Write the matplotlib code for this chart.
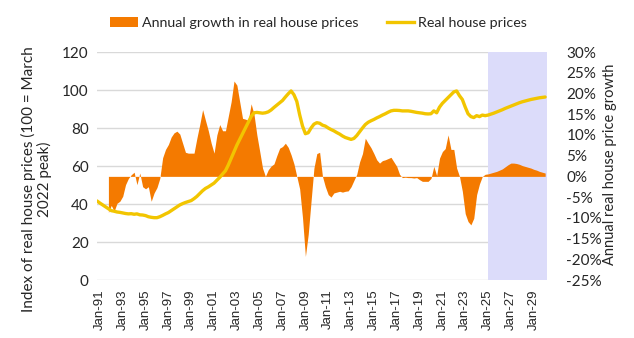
import matplotlib
matplotlib.use("Agg")
import matplotlib.pyplot as plt
import matplotlib.dates as mdates
from matplotlib.patches import Patch
from matplotlib.lines import Line2D
from matplotlib.ticker import FuncFormatter, FixedLocator
import pandas as pd

# Real house price index (100 = March 2022 peak), quarterly from Oct 1990
price_index = [
    41.6,
    40.5, 39.5, 38.5, 37.5,   # 1991
    36.5, 36.2, 35.8, 35.6,   # 1992
    35.3, 35.0, 34.8, 34.9,   # 1993
    34.6, 34.8, 34.3, 34.2,   # 1994
    33.9, 33.3, 33.0, 32.8,   # 1995
    32.8, 33.3, 34.0, 34.8,   # 1996
    35.5, 36.5, 37.5, 38.5,   # 1997
    39.5, 40.2, 40.8, 41.3,   # 1998
    41.8, 42.8, 44.0, 45.5,   # 1999
    47.0, 48.2, 49.0, 50.0,   # 2000
    51.0, 52.5, 54.0, 55.8,   # 2001
    57.5, 60.5, 64.0, 67.5,   # 2002
    71.0, 74.0, 77.0, 80.0,   # 2003
    83.0, 86.0, 88.0, 88.2,   # 2004
    88.0, 87.8, 88.0, 88.5,   # 2005
    89.5, 90.8, 92.0, 93.2,   # 2006
    94.5, 96.3, 98.0, 99.5,   # 2007
    97.5, 94.0, 87.0, 81.0,   # 2008
    77.0, 77.5, 80.0, 82.0,   # 2009
    82.8, 82.5, 81.5, 81.0,   # 2010
    80.0, 79.2, 78.5, 77.6,   # 2011
    76.8, 75.8, 75.0, 74.5,   # 2012
    74.0, 74.5, 76.0, 78.0,   # 2013
    80.0, 81.8, 83.0, 83.8,   # 2014
    84.5, 85.3, 86.0, 86.8,   # 2015
    87.5, 88.3, 89.0, 89.3,   # 2016
    89.3, 89.2, 89.0, 89.0,   # 2017
    89.0, 88.8, 88.5, 88.2,   # 2018
    88.0, 87.8, 87.5, 87.4,   # 2019
    87.5, 89.0, 88.0, 91.0,   # 2020
    93.0, 94.5, 96.0, 97.5,   # 2021
    99.0, 99.5, 97.0, 95.0,   # 2022
    91.0, 87.5, 86.0, 85.5,   # 2023
    86.5, 86.0, 86.8, 86.5,   # 2024
    86.8, 87.3, 87.8, 88.4,   # 2025
    89.0, 89.6, 90.3, 90.9,   # 2026
    91.5, 92.1, 92.7, 93.3,   # 2027
    93.8, 94.2, 94.6, 95.0,   # 2028
    95.3, 95.6, 95.9, 96.1,   # 2029
    96.3,
]

# Annual growth in real house prices (%), quarterly from Oct 1991
annual_growth = [
    -8.7,
    -7.0, -8.4, -6.5, -6.0,   # 1992
    -4.8, -2.0, -0.5, 0.4,    # 1993
    1.0, -2.0, 0.8, -2.5,     # 1994
    -3.0, -2.5, -6.0, -4.0,   # 1995
    -2.7, -0.5, 4.5, 6.5,     # 1996
    7.7, 9.5, 10.5, 10.9,     # 1997
    10.2, 8.0, 5.8, 5.6,      # 1998
    5.6, 5.6, 9.2, 12.5,      # 1999
    16.1, 13.5, 11.0, 8.0,    # 2000
    5.6, 10.0, 12.5, 11.0,    # 2001
    11.0, 14.5, 18.0, 23.0,   # 2002
    22.0, 18.0, 14.0, 13.8,   # 2003
    13.5, 17.5, 15.0, 10.0,   # 2004
    6.0, 2.0, 0.0, 1.6,       # 2005
    2.5, 3.0, 5.0, 6.8,       # 2006
    7.2, 8.0, 7.0, 5.2,       # 2007
    3.0, 0.0, -3.0, -10.0,    # 2008
    -19.3, -14.0, -6.0, 2.0,  # 2009
    5.5, 5.8, 0.0, -2.5,      # 2010
    -4.4, -5.0, -4.0, -3.8,   # 2011
    -3.6, -3.8, -3.6, -3.5,   # 2012
    -2.5, -1.0, 0.5, 3.5,     # 2013
    5.5, 9.2, 8.0, 6.9,       # 2014
    5.5, 4.0, 3.2, 3.8,       # 2015
    4.0, 4.3, 4.6, 3.5,       # 2016
    2.4, 0.5, -0.3, -0.2,     # 2017
    -0.3, -0.3, -0.4, -0.3,   # 2018
    -0.8, -1.2, -1.2, -1.2,   # 2019
    -0.5, 2.4, 0.2, 4.4,      # 2020
    6.0, 6.7, 10.0, 6.5,      # 2021
    6.5, 2.0, 0.0, -3.6,      # 2022
    -9.0, -10.9, -11.7, -10.1,  # 2023
    -4.4, -1.8, 0.0, 0.5,     # 2024
    0.6, 0.8, 1.0, 1.2,       # 2025
    1.5, 1.8, 2.3, 2.8,       # 2026
    3.2, 3.2, 3.1, 2.9,       # 2027
    2.6, 2.4, 2.2, 2.0,       # 2028
    1.7, 1.5, 1.2, 1.0,       # 2029
    0.8,
]

tick_labels = ["Jan-91", "Jan-93", "Jan-95", "Jan-97", "Jan-99", "Jan-01",
               "Jan-03", "Jan-05", "Jan-07", "Jan-09", "Jan-11", "Jan-13",
               "Jan-15", "Jan-17", "Jan-19", "Jan-21", "Jan-23", "Jan-25",
               "Jan-27", "Jan-29"]

price_dates = pd.date_range("1990-10-01", periods=len(price_index), freq="QS")
growth_dates = pd.date_range("1991-10-01", periods=len(annual_growth), freq="QS")
tick_dates = [pd.to_datetime(t, format="%b-%y") for t in tick_labels]

forecast_start = pd.Timestamp("2025-01-01")
x_start = pd.Timestamp("1990-10-01")
x_end = pd.Timestamp("2030-03-01")

legend_labels = ["Annual growth in real house prices", "Real house prices"]
left_title = "Index of real house prices (100 = March\n2022 peak)"
right_title = "Annual real house price growth"

ORANGE = "#f47a00"
GOLD = "#f2c500"
SHADE = "#dcdcfa"
GRID = "#d9d9d9"
TEXT = "#262626"

plt.rcParams["font.family"] = ["Lato", "DejaVu Sans"]

fig = plt.figure(figsize=(6.34, 3.38), dpi=100)
ax = fig.add_axes([97 / 634, 1 - 280 / 338, 450 / 634, 228 / 338])
ax2 = ax.twinx()      # growth area, right-hand scale
ax3 = ax.twinx()      # price line, drawn last so it sits on top

# base layer: gridlines and forecast shading
ax.set_ylim(0, 120)
ax.set_yticks(range(0, 121, 20))
ax.grid(axis="y", color=GRID, linewidth=1.0)
ax.set_axisbelow(True)
ax.set_xlim(x_start, x_end)
ax.axvspan(forecast_start, x_end, color=SHADE, zorder=1, linewidth=0)

# growth area on the right-hand scale
ax2.set_ylim(-25, 30)
ax2.set_yticks(range(-25, 31, 5))
ax2.fill_between(growth_dates, 0, annual_growth, color=ORANGE, linewidth=0)
ax2.yaxis.set_major_formatter(FuncFormatter(lambda v, p: f"{int(v)}%"))

# price line on the left-hand scale
ax3.set_ylim(0, 120)
ax3.set_yticks([])
ax3.plot(price_dates, price_index, color=GOLD, linewidth=2.4,
         solid_joinstyle="round", solid_capstyle="round")

for a in (ax, ax2, ax3):
    for s in a.spines.values():
        s.set_visible(False)
    a.set_xlim(x_start, x_end)

ax.xaxis.set_major_locator(FixedLocator(mdates.date2num(tick_dates)))
ax.set_xticklabels(tick_labels, rotation=90, fontsize=9.5, color=TEXT,
                   family=["Liberation Sans"])
ax.tick_params(axis="x", length=0, pad=7)
ax.tick_params(axis="y", length=0, pad=6, labelsize=11, labelcolor=TEXT)
ax2.tick_params(axis="y", length=0, pad=14, labelsize=11, labelcolor=TEXT)
for lbl in ax2.get_yticklabels():
    lbl.set_horizontalalignment("left")

fig.text(0.057, 0.47, left_title, rotation=90, ha="center", va="center",
         multialignment="center", fontsize=11, color=TEXT, linespacing=1.1)
fig.text(0.962, 0.514, right_title, rotation=90, ha="center", va="center",
         fontsize=10.5, color=TEXT)

handles = [Patch(facecolor=ORANGE, edgecolor="none"),
           Line2D([0], [0], color=GOLD, linewidth=2.4)]
fig.legend(handles, legend_labels, loc="center", bbox_to_anchor=(0.503, 0.932),
           ncol=2, frameon=False, fontsize=10.3, handlelength=1.9,
           handletextpad=0.3, columnspacing=2.0, labelcolor=TEXT)

fig.savefig("out.png", dpi=100)
